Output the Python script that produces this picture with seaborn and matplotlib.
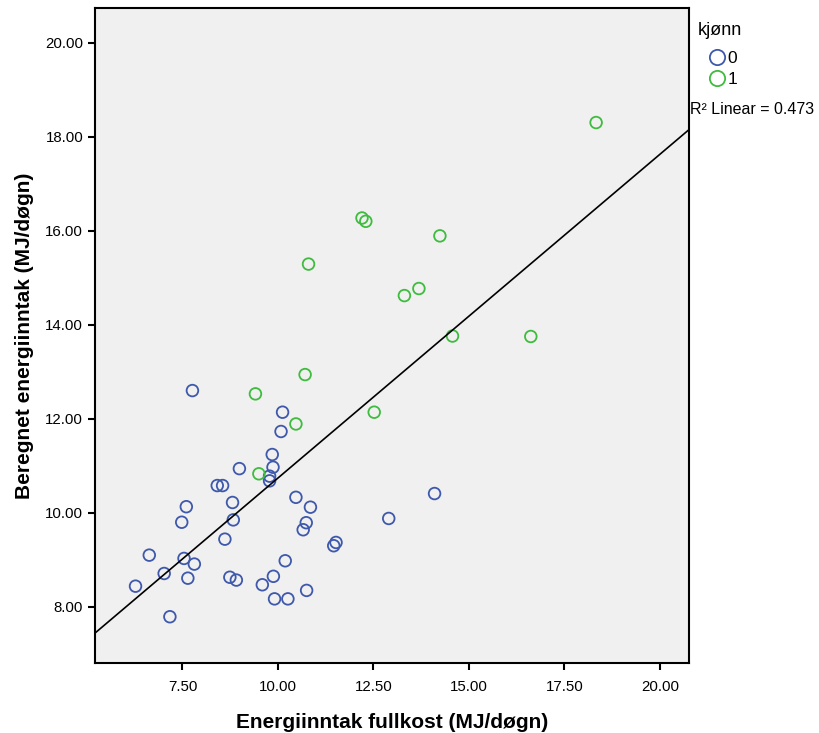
import matplotlib
matplotlib.use("Agg")
import matplotlib.pyplot as plt
from matplotlib.lines import Line2D
import seaborn as sns
import pandas as pd

# fullkost (x), beregnet (y), kjønn
fullkost_0 = [7.76, 10.12, 10.08, 9.85, 9.87, 9.78, 9.78, 8.99, 8.41, 8.55,
              7.60, 8.81, 10.47, 10.85, 12.90, 7.48, 8.83, 10.74, 10.66, 8.61,
              11.52, 11.46, 6.63, 7.54, 7.81, 10.19, 7.02, 7.64, 8.74, 8.91,
              9.88, 9.59, 6.27, 10.75, 9.91, 10.26, 7.17, 14.10]
beregnet_0 = [12.60, 12.14, 11.73, 11.24, 10.97, 10.78, 10.68, 10.94, 10.58, 10.58,
              10.13, 10.22, 10.33, 10.12, 9.88, 9.80, 9.85, 9.79, 9.64, 9.44,
              9.37, 9.30, 9.10, 9.03, 8.91, 8.98, 8.71, 8.61, 8.63, 8.57,
              8.65, 8.47, 8.44, 8.35, 8.17, 8.17, 7.79, 10.41]

fullkost_1 = [9.41, 10.71, 10.47, 12.52, 9.50, 18.33, 14.24, 13.31, 13.69, 14.57,
              16.62, 12.20, 12.30, 10.80]
beregnet_1 = [12.53, 12.94, 11.89, 12.14, 10.83, 18.30, 15.89, 14.62, 14.77, 13.76,
              13.75, 16.27, 16.20, 15.29]

df = pd.DataFrame({
    "fullkost": fullkost_0 + fullkost_1,
    "beregnet": beregnet_0 + beregnet_1,
    "kjønn": ["0"] * len(fullkost_0) + ["1"] * len(fullkost_1),
})

palette = {"0": "#3e58ac", "1": "#3ebc3e"}

sns.set_theme(style="ticks")
plt.rcParams["font.family"] = ["Liberation Sans", "DejaVu Sans"]
plt.rcParams["text.color"] = "black"
plt.rcParams["axes.labelcolor"] = "black"
plt.rcParams["xtick.color"] = "black"
plt.rcParams["ytick.color"] = "black"

fig = plt.figure(figsize=(8.2, 7.33), dpi=100)
ax = fig.add_axes([0.1159, 0.0951, 0.7247, 0.8936])
ax.set_facecolor("#f0f0f0")

ax.set_xlim(5.21, 20.77)
ax.set_ylim(6.80, 20.73)

sns.scatterplot(data=df, x="fullkost", y="beregnet", hue="kjønn", palette=palette,
                ax=ax, s=70, linewidth=1.3, marker="o", legend=False)
# hollow circles: move the hue colour to the edge
for coll in ax.collections:
    fc = coll.get_facecolors()
    coll.set_edgecolors(fc)
    coll.set_facecolors("none")

sns.regplot(data=df, x="fullkost", y="beregnet", scatter=False, ci=None,
            truncate=False, ax=ax, line_kws={"color": "black", "linewidth": 1.2})

ax.set_xticks([7.5, 10, 12.5, 15, 17.5, 20])
ax.set_yticks([8, 10, 12, 14, 16, 18, 20])
ax.xaxis.set_major_formatter(plt.FormatStrFormatter("%.2f"))
ax.yaxis.set_major_formatter(plt.FormatStrFormatter("%.2f"))
ax.tick_params(direction="out", length=5, width=1.5, labelsize=10.8, color="black")
ax.tick_params(axis="x", pad=7)
for sp in ax.spines.values():
    sp.set_linewidth(1.5)
    sp.set_color("black")

ax.set_xlabel("Energiinntak fullkost (MJ/døgn)", fontsize=15, fontweight="bold", labelpad=14)
ax.set_ylabel("Beregnet energiinntak (MJ/døgn)", fontsize=15, fontweight="bold", labelpad=8)

handles = [Line2D([], [], linestyle="none", marker="o", markersize=11,
                  markerfacecolor="none", markeredgecolor=palette[k],
                  markeredgewidth=1.3) for k in ["0", "1"]]
leg = fig.legend(handles, ["0", "1"], title="kjønn", loc="upper left",
                 bbox_to_anchor=(0.843, 0.98), frameon=False, fontsize=12.5,
                 title_fontsize=13, handlelength=2.2, handletextpad=-0.5,
                 labelspacing=0.3, borderaxespad=0)
leg._legend_box.align = "left"
leg._legend_box.sep = 9

fig.text(0.8415, 0.851, "R² Linear = 0.473", fontsize=11.5, ha="left", va="center")

fig.savefig("out.png", dpi=100)
